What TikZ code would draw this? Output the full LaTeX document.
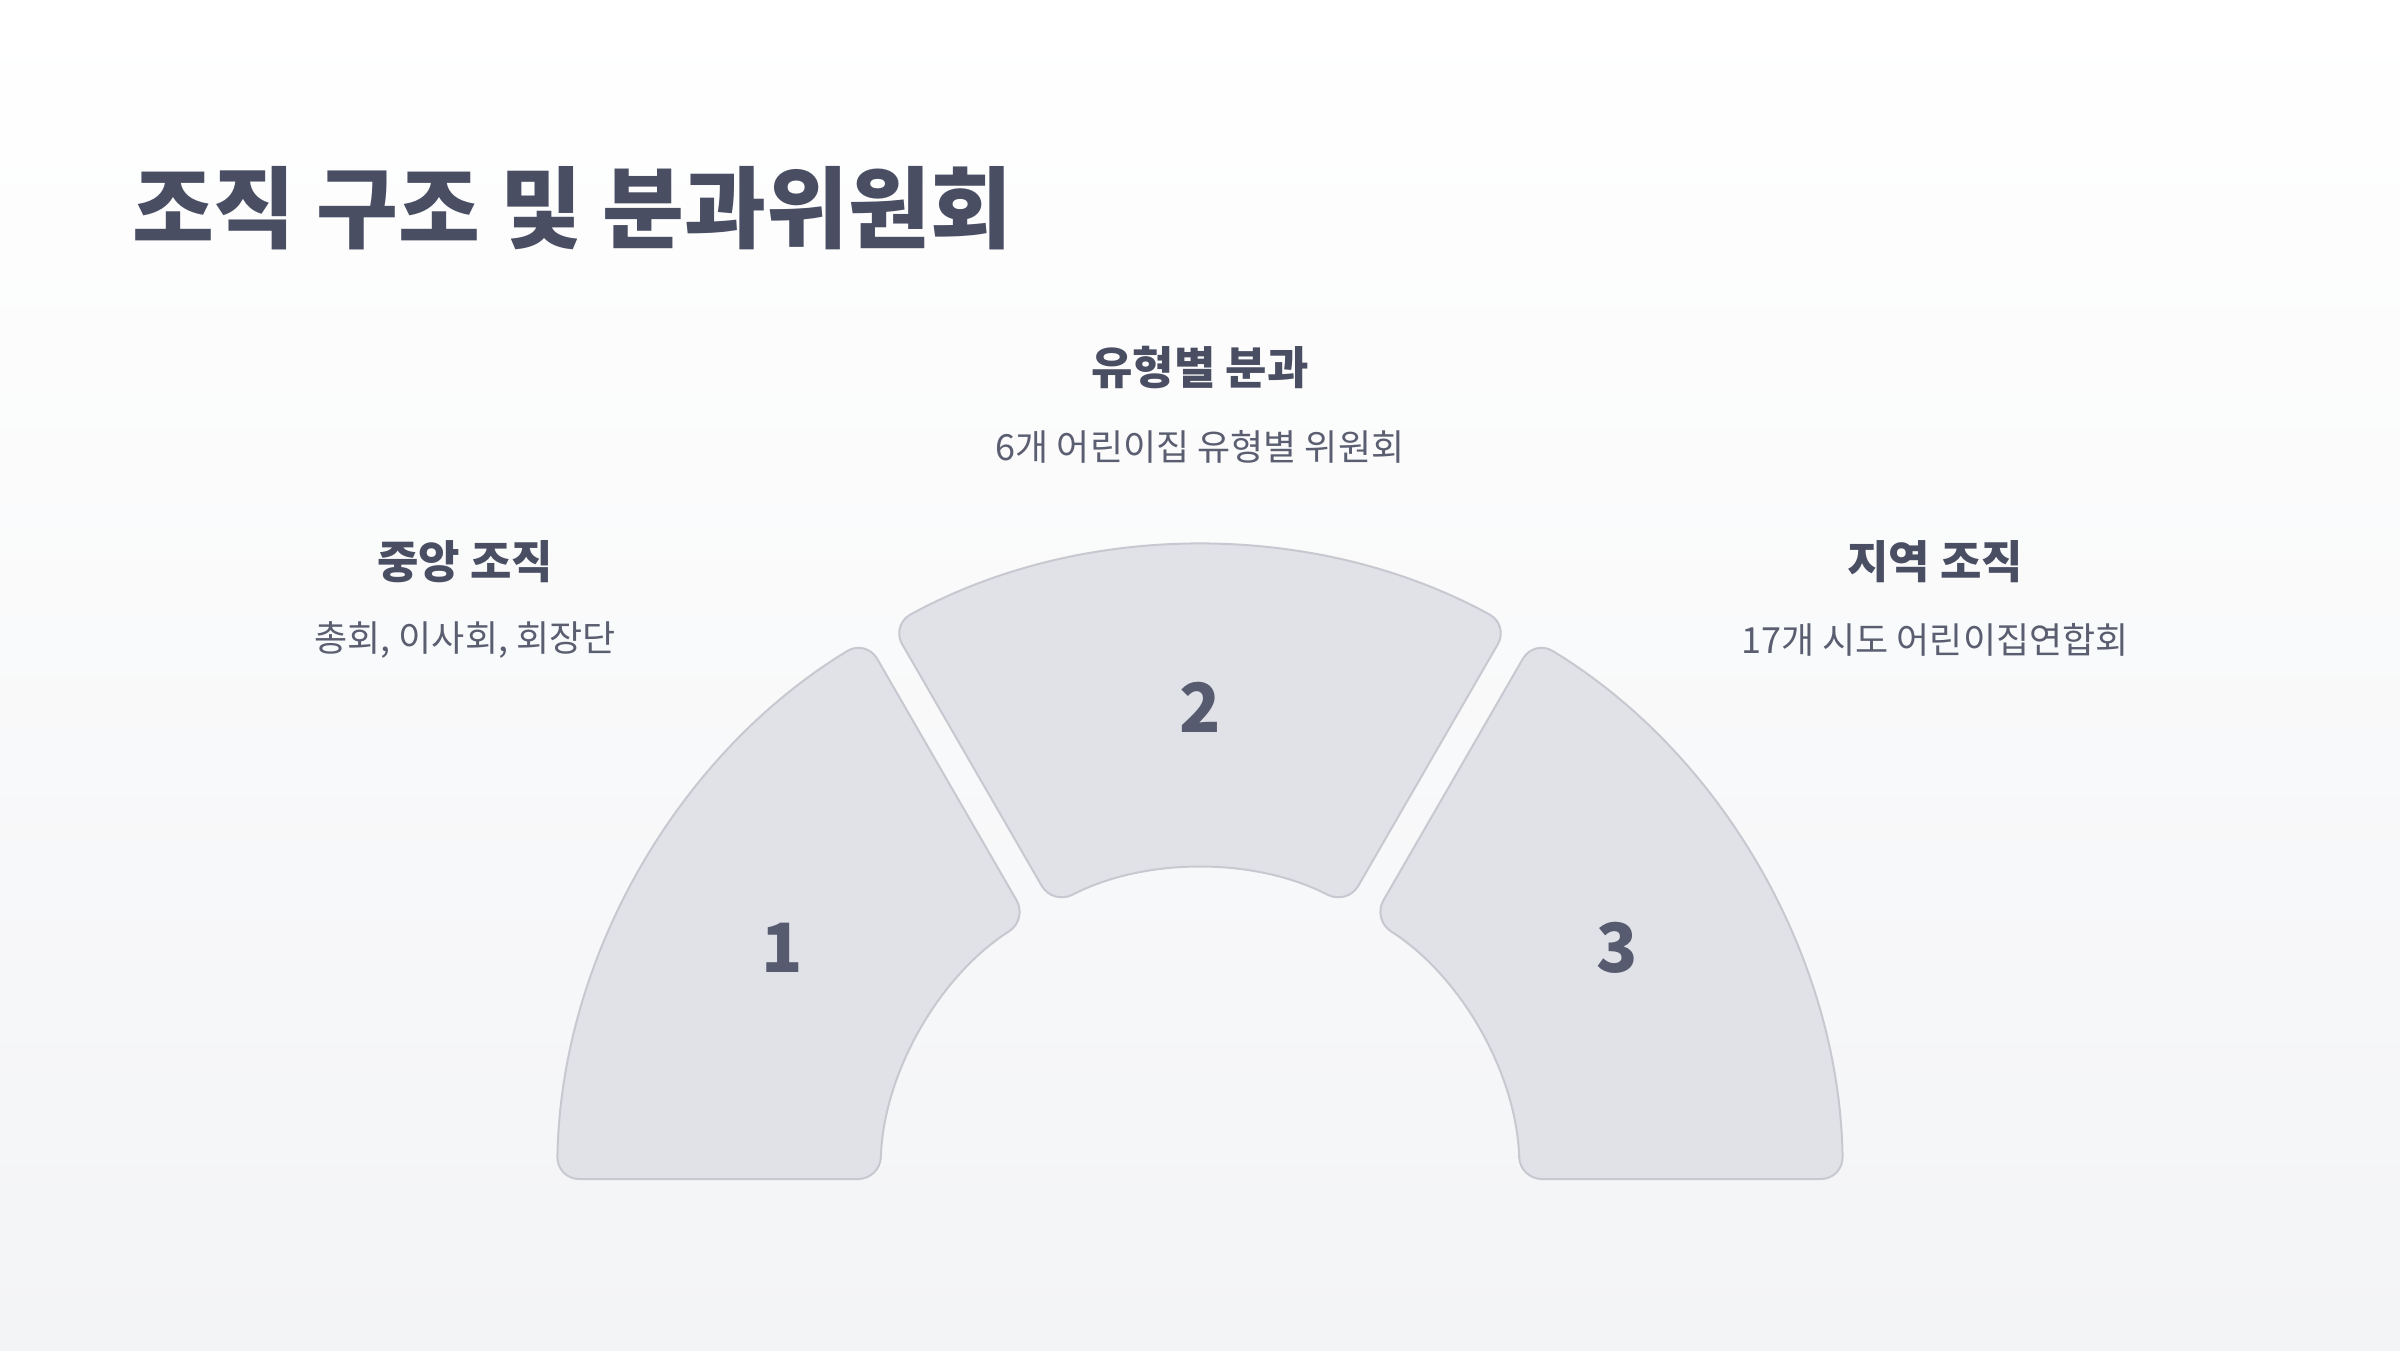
\documentclass[tikz,border=0pt]{standalone}
\usepackage{fontspec}
\setmainfont{Noto Sans CJK KR}
\usetikzlibrary{calc}

\definecolor{bgbottom}{HTML}{F3F4F6}
\definecolor{segfill}{HTML}{E1E2E7}
\definecolor{segline}{HTML}{C8C9D0}
\definecolor{titleink}{HTML}{4A4E63}
\definecolor{headink}{HTML}{4A4E63}
\definecolor{descink}{HTML}{5A5E70}
\definecolor{numink}{HTML}{565B70}

\tikzset{every picture/.style={line width=2pt}}
\tikzset{
  segment/.style={draw=segline,fill=segfill,rounded corners=22pt},
  numlabel/.style={inner sep=0pt,text=numink,font=\fontsize{68}{80}\selectfont\bfseries},
  headlabel/.style={inner sep=0pt,text=headink,font=\fontsize{45}{54}\selectfont\bfseries},
  desclabel/.style={inner sep=0pt,text=descink,font=\fontsize{36}{44}\selectfont},
}

\begin{document}
\begin{tikzpicture}[x=1pt,y=1pt,yscale=-1,xscale=1]
\useasboundingbox (0,0) rectangle (2400,1350);
%background
\shade[top color=white,bottom color=bgbottom] (0,0) rectangle (2400,1350);

%Title
\node[anchor=west,inner sep=0pt,text=titleink,font=\fontsize{89}{106}\selectfont\bfseries] (title) at (131,208) {조직 구조 및 분과위원회};

%centre of the half ring
\coordinate (c) at (1200,1189);

%Segment 1
\draw[segment] ($(c)+(-179.11:643)$) arc[start angle=-179.11,end angle=-121.29,radius=643]
  -- ($(c)+(-122.60:320)$) arc[start angle=-122.60,end angle=-178.21,radius=320] -- cycle;
%Segment 2
\draw[segment] ($(c)+(-118.71:643)$) arc[start angle=-118.71,end angle=-61.29,radius=643]
  -- ($(c)+(-62.60:320)$) arc[start angle=-62.60,end angle=-117.40,radius=320] -- cycle;
%Segment 3
\draw[segment] ($(c)+(-58.71:643)$) arc[start angle=-58.71,end angle=-0.89,radius=643]
  -- ($(c)+(-1.79:320)$) arc[start angle=-1.79,end angle=-57.40,radius=320] -- cycle;

%Numbers
\node[numlabel] (num1) at ($(c)+(-150:482)$) {1};
\node[numlabel] (num2) at ($(c)+(-90:482)$) {2};
\node[numlabel] (num3) at ($(c)+(-30:482)$) {3};

%Labels
\node[headlabel] (head1) at (465,562) {중앙 조직};
\node[desclabel] (desc1) at (465,640) {총회, 이사회, 회장단};
\node[headlabel] (head2) at (1200,368) {유형별 분과};
\node[desclabel] (desc2) at (1200,447) {6개 어린이집 유형별 위원회};
\node[headlabel] (head3) at (1935,562) {지역 조직};
\node[desclabel] (desc3) at (1935,640) {17개 시도 어린이집연합회};

\end{tikzpicture}
\end{document}
